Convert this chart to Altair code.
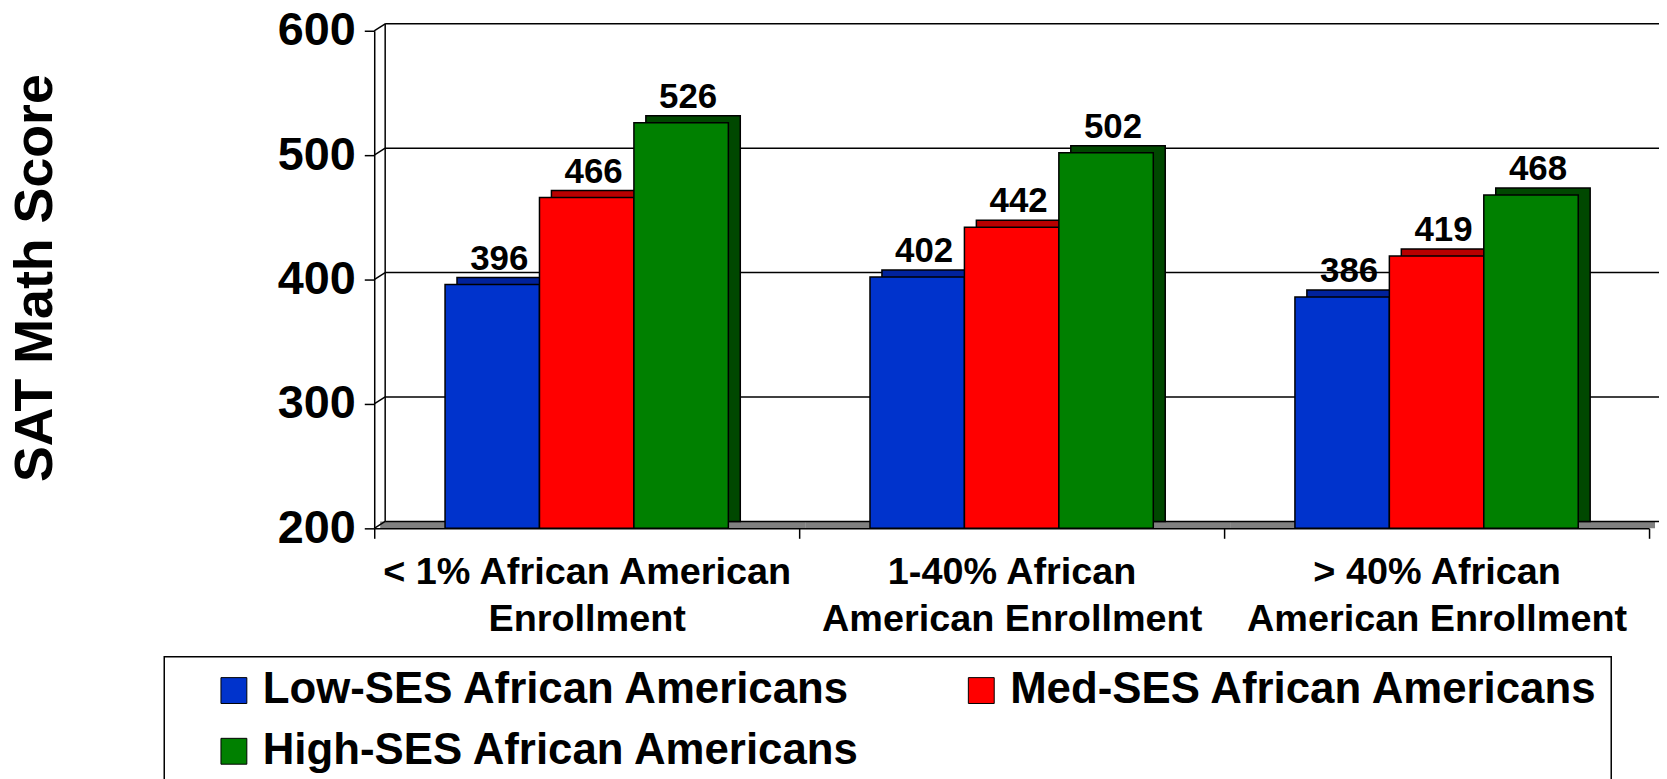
import altair as alt
import pandas as pd

# ---- data ----
categories = [
    "< 1% African American\nEnrollment",
    "1-40% African\nAmerican Enrollment",
    "> 40% African\nAmerican Enrollment",
]
series = [
    "Low-SES African Americans",
    "Med-SES African Americans",
    "High-SES African Americans",
]
low_ses = [396, 402, 386]
med_ses = [466, 442, 419]
high_ses = [526, 502, 468]
y_ticks = [200, 300, 400, 500, 600]

front_colors = ["#0033CC", "#FF0000", "#008000"]
back_colors = ["#00229C", "#B80000", "#004800"]

rows = []
for s, vals in zip(series, [low_ses, med_ses, high_ses]):
    for c, v in zip(categories, vals):
        rows.append({"cat": c, "series": s, "score": v, "base": 200})
df = pd.DataFrame(rows)
ticks_df = pd.DataFrame({"v": y_ticks})
cat_df = pd.DataFrame({"cat": categories, "base": [200] * len(categories)})
top_df = pd.DataFrame({"v": [max(y_ticks)], "base": [min(y_ticks)]})

W, H = 1281, 500
STEP = W / 3
DX, DY = 12, -7
FONT = "Liberation Sans"

yscale = alt.Scale(domain=[200, 600], nice=False, zero=False)
xscale = alt.Scale(domain=categories, paddingInner=0, paddingOuter=0)

x_axis = alt.Axis(
    title=None,
    labelAngle=0,
    labelExpr="split(datum.label, '\\n')",
    labelFont=FONT,
    labelFontSize=38,
    labelFontWeight="bold",
    labelColor="black",
    labelLineHeight=48,
    labelPadding=15,
    labelLimit=600,
    tickBand="extent",
    tickSize=10,
    tickColor="black",
    tickWidth=1.5,
    domainColor="black",
    domainWidth=1.5,
    grid=False,
    zindex=1,
)
y_axis = alt.Axis(
    values=y_ticks,
    grid=False,
    title="SAT Math Score",
    titleFont=FONT,
    titleFontSize=54,
    titleFontWeight="bold",
    titleColor="black",
    titleAngle=270,
    titleAlign="center",
    titleBaseline="middle",
    titleX=-340,
    titleY=248,
    labelFont=FONT,
    labelFontSize=47,
    labelFontWeight="bold",
    labelColor="black",
    labelPadding=9,
    tickSize=10,
    tickColor="black",
    tickWidth=1.5,
    domainColor="black",
    domainWidth=1.5,
    zindex=1,
)

X = lambda: alt.X("cat:N", scale=xscale, axis=x_axis, sort=categories)
Y = lambda f: alt.Y(f, scale=yscale, axis=y_axis)

# floor
floor = alt.Chart(cat_df).mark_rect(
    fill="#808080", xOffset=DX / 2, y2Offset=DY
).encode(
    x=X(),
    y=Y("base:Q"),
    y2=alt.Y2("base"),
)

# back wall gridlines (offset into depth)
grid = alt.Chart(ticks_df).mark_rule(
    color="black", strokeWidth=1.5, yOffset=DY
).encode(
    y=Y("v:Q"),
    x=alt.value(DX - 1),
    x2=alt.value(W + DX),
)

# side wall diagonals
diag = alt.Chart(ticks_df).mark_rule(
    color="black", strokeWidth=1.5, y2Offset=DY
).encode(
    y=Y("v:Q"),
    y2=alt.Y2("v"),
    x=alt.value(0),
    x2=alt.value(DX - 1),
)

# wall left edge
wall_edge = alt.Chart(top_df).mark_rule(
    color="black", strokeWidth=1.5, yOffset=DY, y2Offset=DY
).encode(
    y=Y("v:Q"),
    y2=alt.Y2("base"),
    x=alt.value(DX - 1),
)

# back (depth) bars
back = alt.Chart(df).mark_bar(
    stroke="black", strokeWidth=1.5, yOffset=DY, y2Offset=DY
).encode(
    x=X(),
    xOffset=alt.XOffset(
        "series:N",
        sort=series,
        scale=alt.Scale(domain=series, paddingInner=0, paddingOuter=0.75,
                        range=[DX, STEP + DX]),
    ),
    y=Y("score:Q"),
    y2=alt.Y2("base"),
    color=alt.Color("series:N", scale=alt.Scale(domain=series, range=back_colors),
                    legend=None),
)

# front bars
front = alt.Chart(df).mark_bar(stroke="black", strokeWidth=1.5).encode(
    x=X(),
    xOffset=alt.XOffset(
        "series:N",
        sort=series,
        scale=alt.Scale(domain=series, paddingInner=0, paddingOuter=0.75,
                        range=[0, STEP]),
    ),
    y=Y("score:Q"),
    y2=alt.Y2("base"),
    color=alt.Color(
        "series:N",
        scale=alt.Scale(domain=series, range=front_colors),
        sort=series,
        legend=alt.Legend(
            title=None,
            orient="none",
            direction="horizontal",
            legendX=-211,
            legendY=629,
            columns=2,
            symbolType="square",
            symbolSize=676,
            symbolStrokeColor="black",
            symbolStrokeWidth=1,
            symbolOffset=36,
            labelOffset=7,
            labelFont=FONT,
            labelFontSize=44,
            labelFontWeight="bold",
            labelColor="black",
            labelLimit=800,
            fillColor="white",
        ),
    ),
)

# value labels centred on each bar's band (+6 px for depth)
labels = alt.Chart(df).mark_text(
    font=FONT, fontSize=35, fontWeight="bold", color="black",
    baseline="alphabetic", dy=-15
).encode(
    x=X(),
    xOffset=alt.XOffset(
        "series:N",
        sort=series,
        scale=alt.Scale(type="band", domain=series, paddingInner=0,
                        paddingOuter=0.75, range=[7, STEP + 7]),
    ),
    y=Y("score:Q"),
    text=alt.Text("score:Q"),
)

chart = (
    alt.layer(floor, grid, diag, wall_edge, back, front, labels)
    .resolve_scale(xOffset="independent", color="independent")
    .properties(
        width=W,
        height=H,
        padding={"left": 368, "top": 21, "right": 10, "bottom": 250},
        autosize=alt.AutoSizeParams(type="none"),
        background="white",
    )
    .configure_view(stroke=None)
    .configure_legend(
        columnPadding=62,
        rowPadding=17,
        padding=12,
        strokeColor="black",
        strokeWidth=1.5,
    )
)

chart.save("out.html", embed_options={"renderer": "svg", "actions": False})
